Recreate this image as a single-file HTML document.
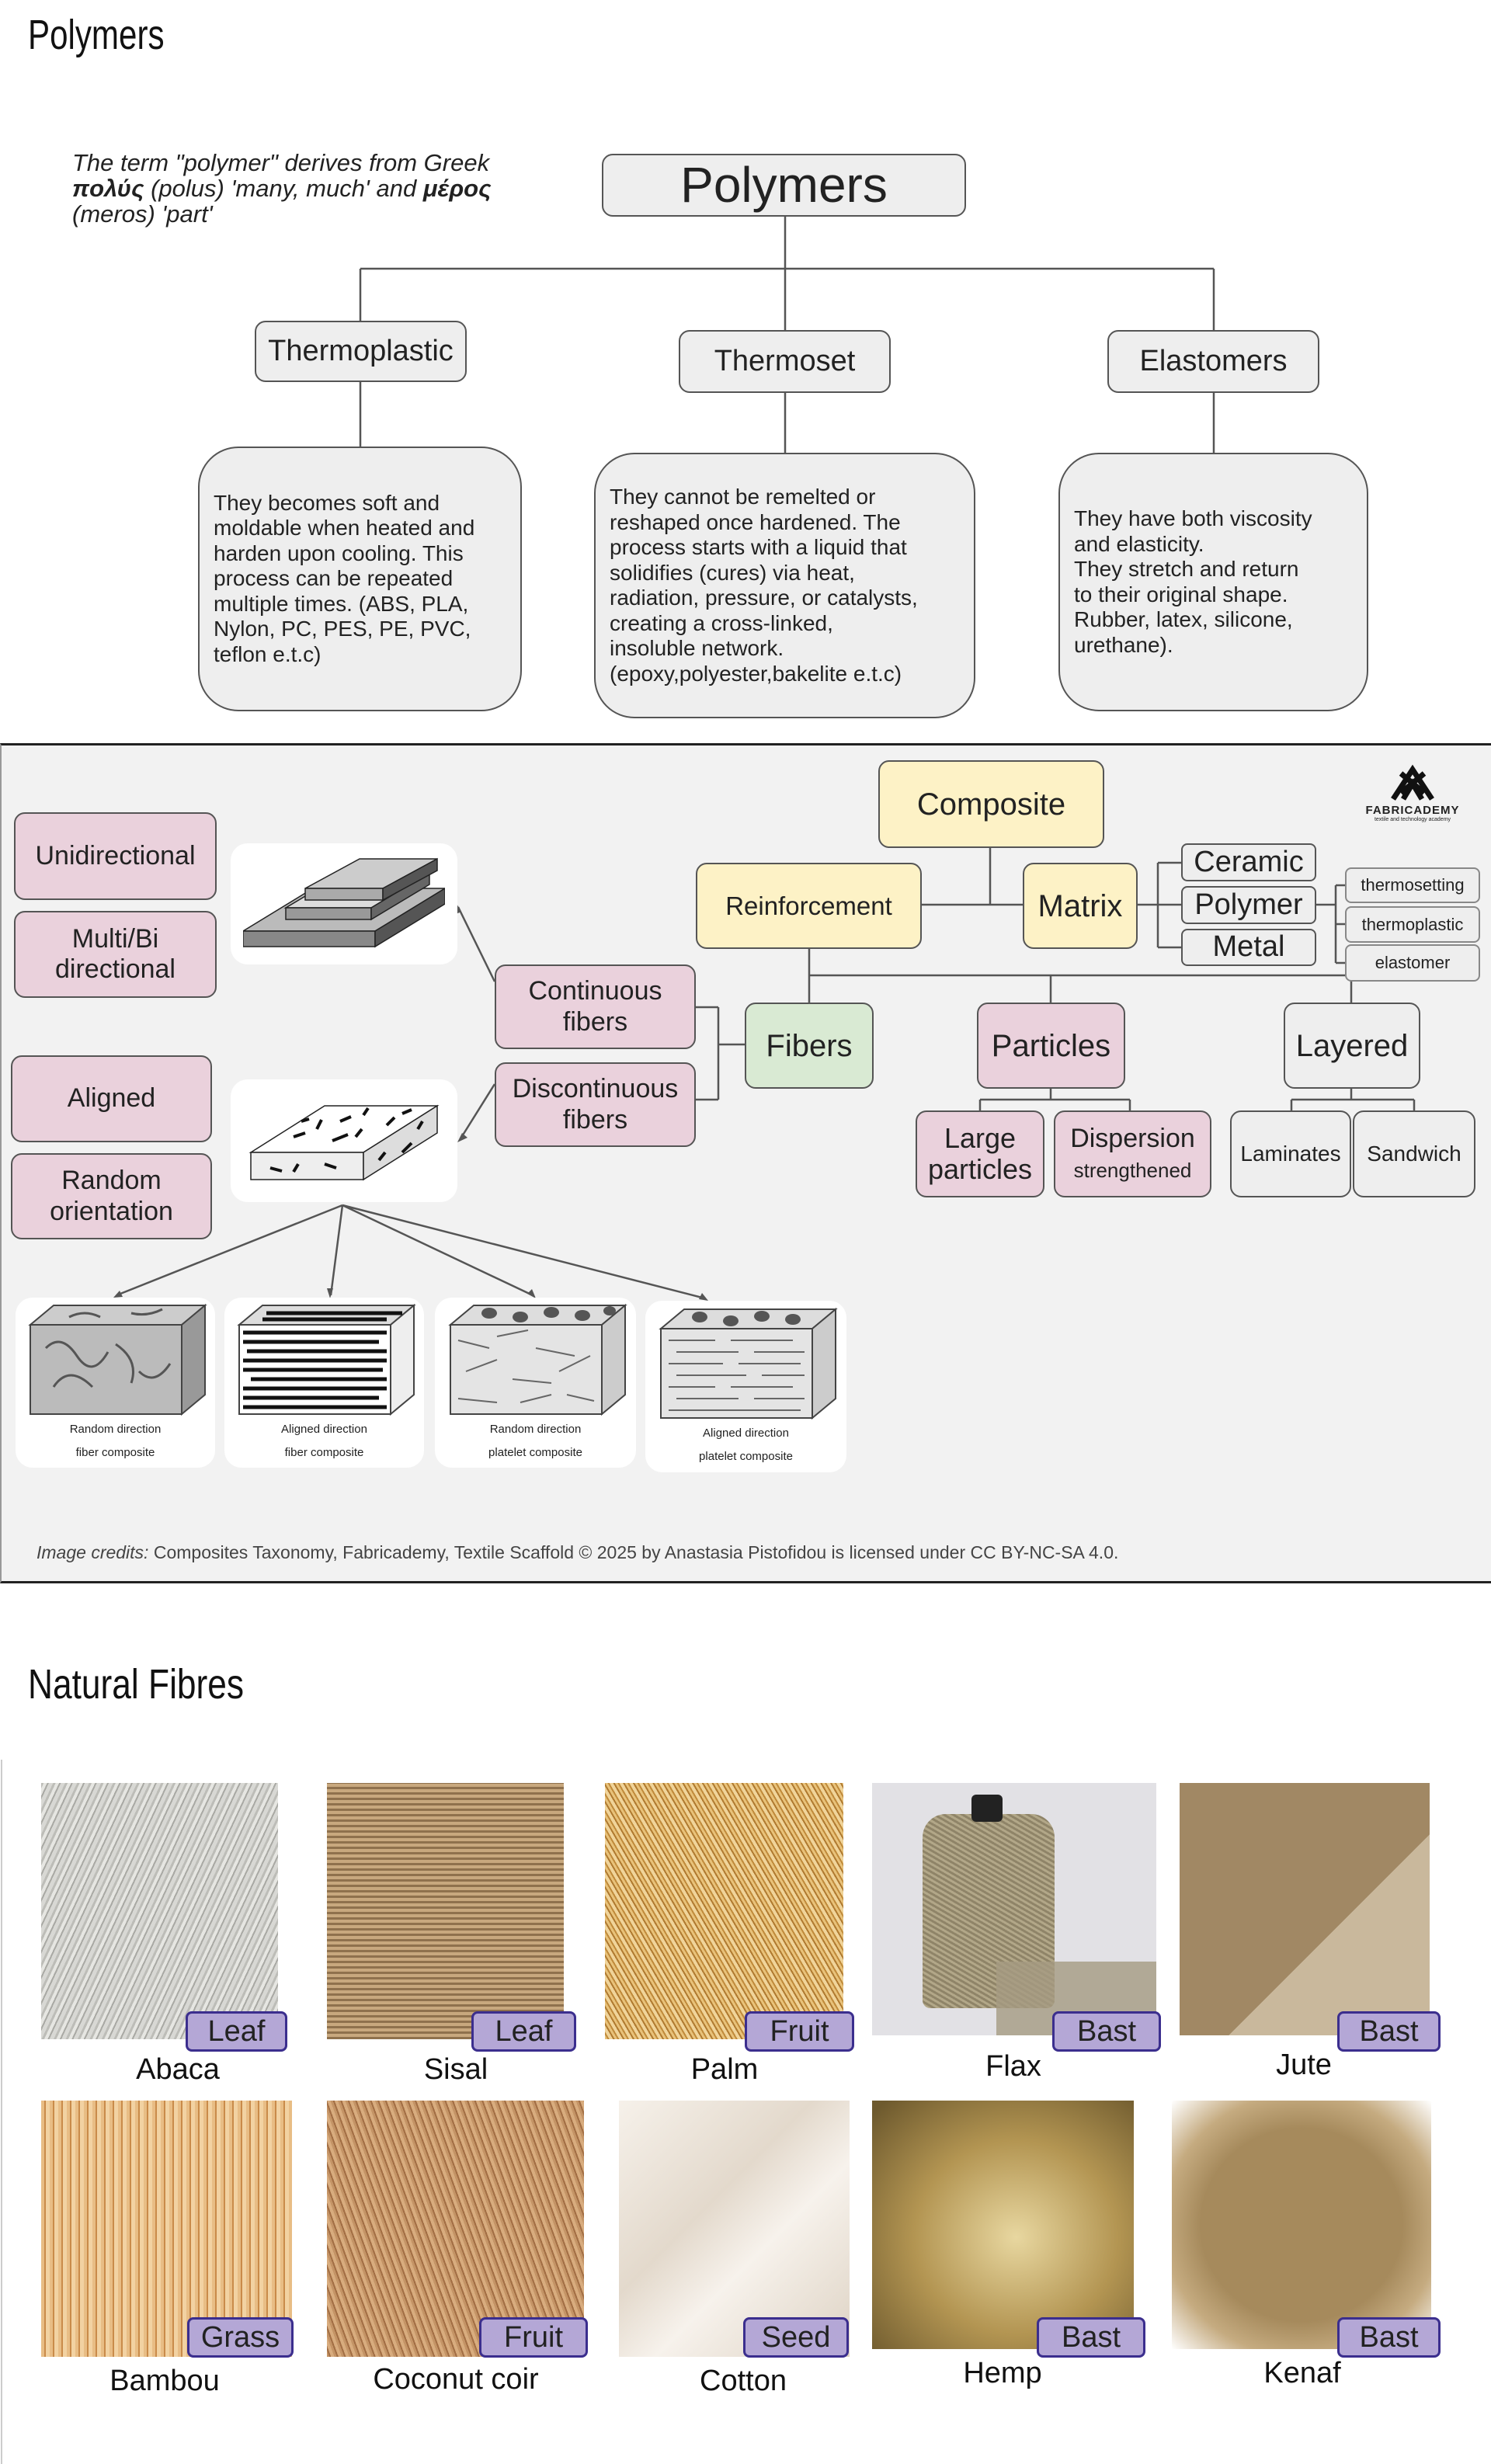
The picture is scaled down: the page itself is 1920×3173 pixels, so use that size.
<!DOCTYPE html>
<html><head><meta charset="utf-8">
<style>
*{margin:0;padding:0;box-sizing:border-box}
body{width:1920px;height:3173px;background:#fff;position:relative;font-family:"Liberation Sans",sans-serif;color:#222;overflow:hidden}
.a{position:absolute}
.h{font-size:54px;color:#111;transform-origin:0 0;white-space:nowrap}
.bx{position:absolute;border:2px solid #555;border-radius:14px;display:flex;align-items:center;justify-content:center;text-align:center;line-height:1.15}
.g{background:#eeeeee}
.c{background:#fdf2c6}
.p{background:#ead1dc}
.gr{background:#d9ead3}
.w{background:#fff;border:none;border-radius:22px}
.desc{position:absolute;border:2px solid #555;border-radius:52px;background:#eeeeee;font-size:28px;line-height:32.5px;padding:0 18px;display:flex;align-items:center;white-space:nowrap}
.img{position:absolute}
.bd{position:absolute;background:#b4a7d6;border:3px solid #3b2e8e;border-radius:8px;font-size:38px;color:#222;display:flex;align-items:center;justify-content:center;height:52px}
.nm{position:absolute;font-size:38px;color:#111;transform:translateX(-50%);white-space:nowrap}
</style></head><body>

<div class="a h" style="left:36px;top:14px;transform:scaleX(0.78)">Polymers</div>
<div class="a" style="left:93px;top:193px;font-size:31px;line-height:33px;font-style:italic;color:#222;white-space:nowrap">The term "polymer" derives from Greek<br><b>πολύς</b> (polus) 'many, much' and <b>μέρος</b><br>(meros) 'part'</div>

<svg class="a" style="left:0;top:0" width="1920" height="3173">
<g stroke="#555" stroke-width="2.5" fill="none">
<path d="M1011 279V346M464 346H1563M464 346V413M1011 346V425M1563 346V425M464 492V575M1011 506V583M1563 506V583"/>
<path d="M1275 1092V1165M1187 1165H1317M1465 1165H1491M1491 1111V1220M1491 1111H1521M1491 1165H1521M1491 1220H1521M1695 1165H1720M1720 1140V1240M1720 1140H1732M1720 1190H1732M1720 1240H1732"/>
<path d="M1042 1222V1256M1042 1256H1732M1042 1256V1291M1353 1256V1291M1740 1256V1291M1740 1264V1256"/>
<path d="M1353 1402V1416M1262 1416H1455M1262 1416V1430M1455 1416V1430M1740 1402V1416M1663 1416H1821M1663 1416V1430M1821 1416V1430"/>
<path d="M959 1345H925M925 1297V1416M925 1297H896M925 1416H896"/>
<path d="M637 1264L590 1168M637 1396L592 1468M441 1552L150 1668M441 1552L426 1668M441 1552L686 1668M441 1552L908 1672"/>
</g>
<g fill="#555">
<path d="M587 1162l-2 16 9-4z"/><path d="M589 1471l13-6-7-6z"/>
<path d="M146 1671l12-1-4-8z"/><path d="M425 1672l4-13-8 0z"/><path d="M690 1672l-5-12-6 6z"/><path d="M912 1675l-8-10-4 8z"/>
</g>
</svg>

<div class="bx g" style="left:775px;top:198px;width:469px;height:81px;font-size:64px">Polymers</div>
<div class="bx g" style="left:328px;top:413px;width:273px;height:79px;font-size:38px">Thermoplastic</div>
<div class="bx g" style="left:874px;top:425px;width:273px;height:81px;font-size:38px">Thermoset</div>
<div class="bx g" style="left:1426px;top:425px;width:273px;height:81px;font-size:38px">Elastomers</div>
<div class="desc" style="left:255px;top:575px;width:417px;height:341px">They becomes soft and<br>moldable when heated and<br>harden upon cooling. This<br>process can be repeated<br>multiple times. (ABS, PLA,<br>Nylon, PC, PES, PE, PVC,<br>teflon e.t.c)</div>
<div class="desc" style="left:765px;top:583px;width:491px;height:342px">They cannot be remelted or<br>reshaped once hardened. The<br>process starts with a liquid that<br>solidifies (cures) via heat,<br>radiation, pressure, or catalysts,<br>creating a cross-linked,<br>insoluble network.<br>(epoxy,polyester,bakelite e.t.c)</div>
<div class="desc" style="left:1363px;top:583px;width:399px;height:333px">They have both viscosity<br>and elasticity.<br>They stretch and return<br>to their original shape.<br>Rubber, latex, silicone,<br>urethane).</div>

<div class="a" style="left:0;top:957px;width:1920px;height:1082px;background:#f2f2f2;border-top:3px solid #222;border-bottom:3px solid #222;border-left:2px solid #999;z-index:-1"></div>

<div class="bx c" style="left:1131px;top:979px;width:291px;height:113px;font-size:40px">Composite</div>
<div class="bx c" style="left:896px;top:1111px;width:291px;height:111px;font-size:33px">Reinforcement</div>
<div class="bx c" style="left:1317px;top:1111px;width:148px;height:111px;font-size:40px">Matrix</div>
<div class="bx g" style="left:1521px;top:1086px;width:174px;height:49px;font-size:38px;border-radius:8px">Ceramic</div>
<div class="bx g" style="left:1521px;top:1141px;width:174px;height:49px;font-size:38px;border-radius:8px">Polymer</div>
<div class="bx g" style="left:1521px;top:1196px;width:174px;height:48px;font-size:38px;border-radius:8px">Metal</div>
<div class="bx g" style="left:1732px;top:1117px;width:174px;height:46px;font-size:22px;border-radius:8px;border-color:#888">thermosetting</div>
<div class="bx g" style="left:1732px;top:1167px;width:174px;height:47px;font-size:22px;border-radius:8px;border-color:#888">thermoplastic</div>
<div class="bx g" style="left:1732px;top:1216px;width:174px;height:48px;font-size:22px;border-radius:8px;border-color:#888">elastomer</div>
<div class="bx gr" style="left:959px;top:1291px;width:166px;height:111px;font-size:40px">Fibers</div>
<div class="bx p" style="left:1258px;top:1291px;width:191px;height:111px;font-size:40px">Particles</div>
<div class="bx g" style="left:1653px;top:1291px;width:176px;height:111px;font-size:40px">Layered</div>
<div class="bx p" style="left:1179px;top:1430px;width:166px;height:112px;font-size:36px;line-height:1.1"><div>Large<br>particles</div></div>
<div class="bx p" style="left:1357px;top:1430px;width:203px;height:112px;font-size:34px;line-height:1.15"><div>Dispersion<br><span style="font-size:26px">strengthened</span></div></div>
<div class="bx g" style="left:1584px;top:1430px;width:156px;height:112px;font-size:28px">Laminates</div>
<div class="bx g" style="left:1742px;top:1430px;width:158px;height:112px;font-size:28px">Sandwich</div>
<div class="bx p" style="left:637px;top:1242px;width:259px;height:109px;font-size:34px">Continuous<br>fibers</div>
<div class="bx p" style="left:637px;top:1368px;width:259px;height:109px;font-size:34px">Discontinuous<br>fibers</div>
<div class="bx p" style="left:18px;top:1046px;width:261px;height:113px;font-size:34px">Unidirectional</div>
<div class="bx p" style="left:18px;top:1173px;width:261px;height:112px;font-size:34px">Multi/Bi<br>directional</div>
<div class="bx p" style="left:14px;top:1359px;width:259px;height:112px;font-size:34px">Aligned</div>
<div class="bx p" style="left:14px;top:1485px;width:259px;height:111px;font-size:34px">Random<br>orientation</div>

<div class="bx w" style="left:297px;top:1086px;width:292px;height:156px">
<svg width="260" height="120" viewBox="0 0 260 120"><g stroke="#222" stroke-width="1.5"><path d="M0 95L90 40H260L170 95Z" fill="#bbb"/><path d="M0 95H170V115H0Z" fill="#888"/><path d="M170 95L260 40V60L170 115Z" fill="#555"/><path d="M55 65L130 20H240L165 65Z" fill="#ddd"/><path d="M55 65H165V80H55Z" fill="#999"/><path d="M165 65L240 20V35L165 80Z" fill="#666"/><path d="M80 40L150 2H250L180 40Z" fill="#ccc"/><path d="M80 40H180V55H80Z" fill="#aaa"/><path d="M180 40L250 2V17L180 55Z" fill="#555"/></g></svg></div>
<div class="bx w" style="left:297px;top:1390px;width:292px;height:158px">
<svg width="250" height="110" viewBox="0 0 250 110"><g stroke="#222" stroke-width="1.5" fill="#fff"><path d="M5 70L100 10H245L150 70Z"/><path d="M5 70H150V105H5Z" fill="#eee"/><path d="M150 70L245 10V45L150 105Z" fill="#ddd"/></g><g stroke="#111" stroke-width="4"><path d="M60 50l15-5M90 40l6-12M120 30l14-6M150 22l6-9M180 35l10-10M110 55l20-8M200 20l12-5M70 30l10-3M140 50l8-10M30 90l15 4M60 95l6-10M100 85l15 5M170 80l8-10M200 70l12-12M220 40l6-10"/></g></svg></div>

<div class="bx w" style="left:20px;top:1671px;width:257px;height:219px;flex-direction:column;font-size:15px;line-height:30px"><svg width="240" height="150" viewBox="0 0 240 150"><g stroke="#444" stroke-width="2"><path d="M10 30L40 5H235L205 30Z" fill="#ccc"/><path d="M10 30H205V145H10Z" fill="#bbb"/><path d="M205 30L235 5V120L205 145Z" fill="#999"/></g><g stroke="#555" stroke-width="3" fill="none"><path d="M30 60q20-20 40 10t40-5M120 55q30 20 20 50M40 110q20-30 50 0M150 90q20 20 40-10M60 20q20-10 40 0M140 15q20 5 40-5"/></g></svg>Random direction<br>fiber composite</div>
<div class="bx w" style="left:289px;top:1671px;width:257px;height:219px;flex-direction:column;font-size:15px;line-height:30px"><svg width="240" height="150" viewBox="0 0 240 150"><g stroke="#444" stroke-width="2"><path d="M10 30L40 5H235L205 30Z" fill="#ddd"/><path d="M10 30H205V145H10Z" fill="#fff"/><path d="M205 30L235 5V120L205 145Z" fill="#eee"/></g><g stroke="#111" stroke-width="5"><path d="M15 40H200M15 52H190M20 64H200M15 76H200M15 88H195M25 100H200M15 112H200M15 124H190M15 136H200M45 15H220M40 23H200"/></g></svg>Aligned direction<br>fiber composite</div>
<div class="bx w" style="left:560px;top:1671px;width:259px;height:219px;flex-direction:column;font-size:15px;line-height:30px"><svg width="240" height="150" viewBox="0 0 240 150"><g stroke="#444" stroke-width="2"><path d="M10 30L40 5H235L205 30Z" fill="#ddd"/><path d="M10 30H205V145H10Z" fill="#e4e4e4"/><path d="M205 30L235 5V120L205 145Z" fill="#ccc"/></g><g fill="#555"><ellipse cx="60" cy="15" rx="10" ry="7"/><ellipse cx="100" cy="20" rx="10" ry="7"/><ellipse cx="140" cy="14" rx="10" ry="7"/><ellipse cx="180" cy="18" rx="10" ry="7"/><ellipse cx="215" cy="12" rx="8" ry="6"/></g><g stroke="#666" stroke-width="2"><path d="M20 50l40 10M70 45l40-8M120 60l50 10M30 90l40-15M90 100l50 5M150 90l40-20M20 125l50 5M100 130l40-10M160 120l35 8"/></g></svg>Random direction<br>platelet composite</div>
<div class="bx w" style="left:831px;top:1675px;width:259px;height:221px;flex-direction:column;font-size:15px;line-height:30px"><svg width="240" height="150" viewBox="0 0 240 150"><g stroke="#444" stroke-width="2"><path d="M10 30L40 5H235L205 30Z" fill="#ddd"/><path d="M10 30H205V145H10Z" fill="#e4e4e4"/><path d="M205 30L235 5V120L205 145Z" fill="#ccc"/></g><g fill="#555"><ellipse cx="60" cy="15" rx="10" ry="7"/><ellipse cx="100" cy="20" rx="10" ry="7"/><ellipse cx="140" cy="14" rx="10" ry="7"/><ellipse cx="180" cy="18" rx="10" ry="7"/></g><g stroke="#666" stroke-width="2"><path d="M20 45H80M100 45H180M30 60H110M130 60H195M20 75H90M110 75H190M30 90H120M140 90H195M20 105H80M100 105H180M30 120H110M130 120H195M20 135H190"/></g></svg>Aligned direction<br>platelet composite</div>

<div class="a" style="left:1744px;top:981px;width:150px;text-align:center">
<svg width="80" height="50" viewBox="0 0 80 50"><g stroke="#111" stroke-width="7" fill="none"><path d="M15 48L40 10L65 48M28 48L40 28L52 48M25 15L55 40M55 15L25 40"/></g></svg>
<div style="font-size:15px;font-weight:bold;letter-spacing:1px;line-height:16px">FABRICADEMY</div><div style="font-size:7px">textile and technology academy</div></div>

<div class="a" style="left:47px;top:1986px;font-size:23px;color:#444;white-space:nowrap"><i>Image credits:</i> Composites Taxonomy, Fabricademy, Textile Scaffold © 2025 by Anastasia Pistofidou is licensed under CC BY-NC-SA 4.0.</div>

<div class="a h" style="left:36px;top:2138px;transform:scaleX(0.82)">Natural Fibres</div>
<div class="a" style="left:1px;top:2266px;width:2px;height:907px;background:#ccc"></div>

<div class="img" style="left:53px;top:2296px;width:305px;height:330px;background:repeating-linear-gradient(115deg,#bdbdb8 0 3px,#e6e6e2 3px 7px,#a9a9a4 7px 9px,#d8d8d4 9px 14px)"></div>
<div class="img" style="left:421px;top:2296px;width:305px;height:330px;background:repeating-linear-gradient(0deg,#8a6a44 0 3px,#c6a478 3px 7px),#b08a5c;opacity:.95"></div>
<div class="img" style="left:779px;top:2296px;width:307px;height:330px;background:repeating-linear-gradient(60deg,#e8c27a 0 3px,#c08a3a 3px 5px,#f0d49a 5px 9px,#b07a30 9px 11px)"></div>
<div class="img" style="left:1123px;top:2296px;width:366px;height:325px;background:#e2e1e5"><div class="a" style="left:65px;top:40px;width:170px;height:250px;background:repeating-linear-gradient(30deg,#8f8468 0 3px,#b2a788 3px 6px);border-radius:30px 30px 10px 10px"></div><div class="a" style="left:128px;top:15px;width:40px;height:35px;background:#222;border-radius:6px"></div><div class="a" style="left:160px;top:230px;width:206px;height:95px;background:#a59b82;opacity:.8"></div></div>
<div class="img" style="left:1519px;top:2296px;width:322px;height:325px;background:linear-gradient(135deg,#a18864 0 60%,#c9b89c 60% 100%)"></div>

<div class="img" style="left:53px;top:2705px;width:323px;height:330px;background:repeating-linear-gradient(90deg,#e8bd85 0 4px,#c98b4a 4px 6px,#f2d2a2 6px 11px),#e0b57a"></div>
<div class="img" style="left:421px;top:2705px;width:331px;height:330px;background:repeating-linear-gradient(70deg,#c49466 0 3px,#a26e44 3px 5px,#d8ac7e 5px 9px)"></div>
<div class="img" style="left:797px;top:2705px;width:297px;height:330px;background:linear-gradient(135deg,#f6f1ea,#e3d9cc 40%,#f7f2ec 60%,#ddd2c3)"></div>
<div class="img" style="left:1123px;top:2705px;width:337px;height:320px;background:radial-gradient(ellipse at 55% 55%,#e8d7a0,#b39552 50%,#6e5a2e 95%)"></div>
<div class="img" style="left:1509px;top:2705px;width:334px;height:320px;background:radial-gradient(ellipse at 50% 50%,#a68a5c 55%,#c5ab80 75%,#fff 100%)"></div>

<div class="bd" style="left:239px;top:2590px;width:131px">Leaf</div>
<div class="bd" style="left:607px;top:2590px;width:135px">Leaf</div>
<div class="bd" style="left:959px;top:2590px;width:141px">Fruit</div>
<div class="bd" style="left:1355px;top:2590px;width:140px">Bast</div>
<div class="bd" style="left:1722px;top:2590px;width:133px">Bast</div>
<div class="bd" style="left:241px;top:2984px;width:137px">Grass</div>
<div class="bd" style="left:617px;top:2984px;width:140px">Fruit</div>
<div class="bd" style="left:957px;top:2984px;width:136px">Seed</div>
<div class="bd" style="left:1335px;top:2984px;width:140px">Bast</div>
<div class="bd" style="left:1722px;top:2984px;width:133px">Bast</div>

<div class="nm" style="left:229px;top:2644px">Abaca</div>
<div class="nm" style="left:587px;top:2644px">Sisal</div>
<div class="nm" style="left:933px;top:2644px">Palm</div>
<div class="nm" style="left:1305px;top:2640px">Flax</div>
<div class="nm" style="left:1679px;top:2638px">Jute</div>
<div class="nm" style="left:212px;top:3045px">Bambou</div>
<div class="nm" style="left:587px;top:3043px">Coconut coir</div>
<div class="nm" style="left:957px;top:3045px">Cotton</div>
<div class="nm" style="left:1291px;top:3035px">Hemp</div>
<div class="nm" style="left:1677px;top:3035px">Kenaf</div>
</body></html>
